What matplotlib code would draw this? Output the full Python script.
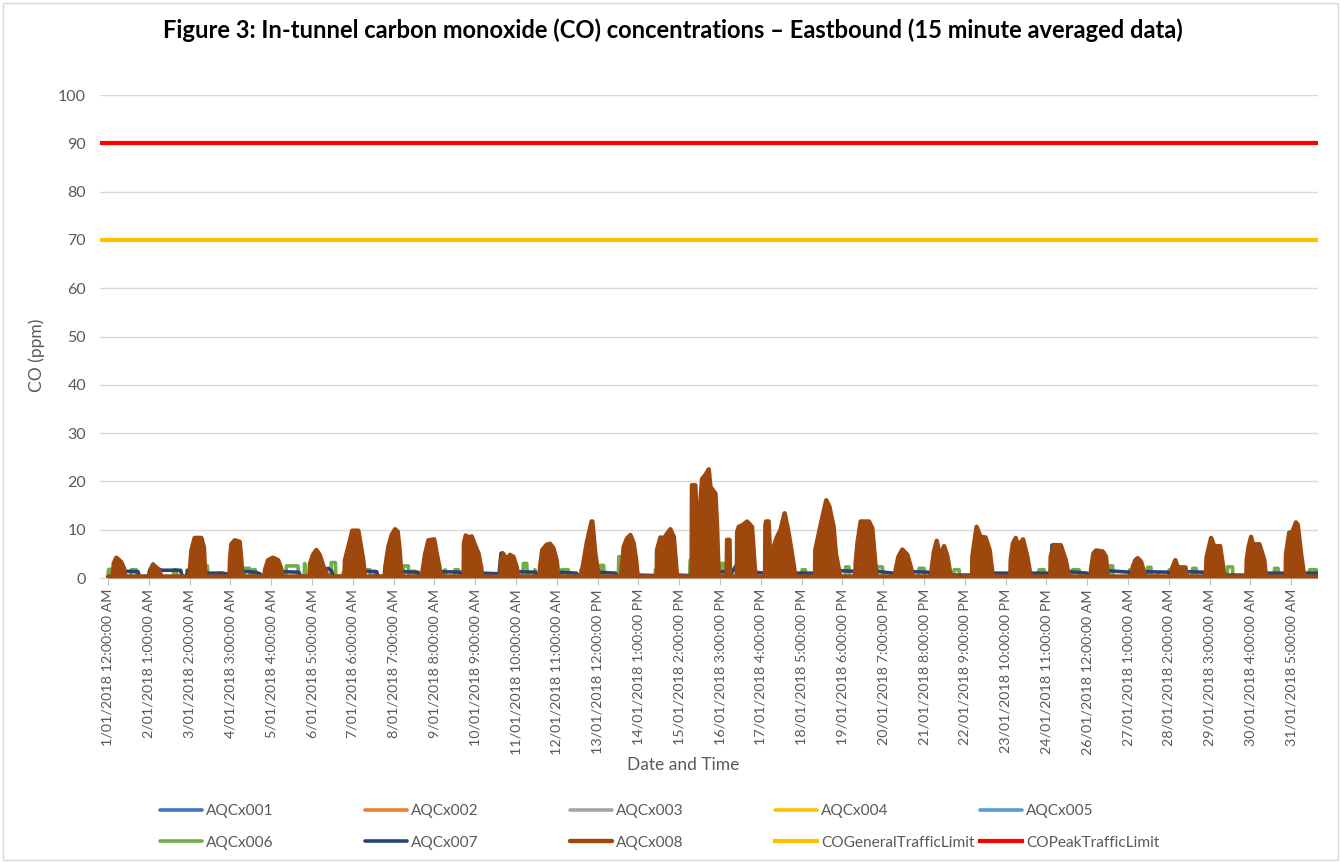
import numpy as np
import matplotlib
matplotlib.use("Agg")
import matplotlib.pyplot as plt
from matplotlib.patches import Rectangle

plt.rcParams["font.family"] = ["Lato", "DejaVu Sans"]

# ── Data (hours since 1/01/2018 00:00, CO in ppm) ─────────────────────────────

TICK_HOURS = list(range(0, 726, 25))
TICK_LABELS = [
    "1/01/2018 12:00:00 AM", "2/01/2018 1:00:00 AM", "3/01/2018 2:00:00 AM",
    "4/01/2018 3:00:00 AM", "5/01/2018 4:00:00 AM", "6/01/2018 5:00:00 AM",
    "7/01/2018 6:00:00 AM", "8/01/2018 7:00:00 AM", "9/01/2018 8:00:00 AM",
    "10/01/2018 9:00:00 AM", "11/01/2018 10:00:00 AM", "12/01/2018 11:00:00 AM",
    "13/01/2018 12:00:00 PM", "14/01/2018 1:00:00 PM", "15/01/2018 2:00:00 PM",
    "16/01/2018 3:00:00 PM", "17/01/2018 4:00:00 PM", "18/01/2018 5:00:00 PM",
    "19/01/2018 6:00:00 PM", "20/01/2018 7:00:00 PM", "21/01/2018 8:00:00 PM",
    "22/01/2018 9:00:00 PM", "23/01/2018 10:00:00 PM", "24/01/2018 11:00:00 PM",
    "26/01/2018 12:00:00 AM", "27/01/2018 1:00:00 AM", "28/01/2018 2:00:00 AM",
    "29/01/2018 3:00:00 AM", "30/01/2018 4:00:00 AM", "31/01/2018 5:00:00 AM",
]

# AQCx008 (dominant brown series)
H_008 = [0, 3.0, 3.5, 5.1, 6.5, 8.1, 9.8, 10.3,
         25.3, 26.5, 27.6, 29.6, 31.5, 32.7,
         49.8, 50.2, 51.1, 53.1, 57.2, 58.8, 59.6,
         74.4, 74.8, 75.6, 77.6, 80.7, 81.7, 82.3,
         95.8, 96.2, 98.1, 101.1, 104.2, 105.8, 107.2,
         123.4, 123.8, 125.6, 127.7, 129.7, 132.0, 134.8,
         144.8, 145.2, 147.3, 149.7, 153.4, 155.0, 156.4, 157.5,
         169.5, 169.9, 171.8, 173.8, 175.9, 177.5, 178.5, 179.9,
         192.4, 192.8, 194.2, 196.3, 199.9, 201.4, 203.4, 204.4,
         217.9, 218.1, 219.2, 220.8, 222.9, 224.9, 227.0, 228.6, 229.4,
         240.6, 240.8, 242.2, 244.3, 246.3, 248.4, 250.4, 251.5,
         264.5, 264.7, 266.1, 268.8, 270.8, 272.9, 274.9, 276.0,
         290.0, 290.2, 293.3, 296.3, 296.8, 298.6, 300.7,
         313.9, 314.5, 316.0, 318.0, 320.1, 322.1, 323.6, 324.6,
         336.2, 336.4, 338.5, 340.5, 342.6, 344.6, 346.7, 348.7,
         357.6, 357.8, 359.9, 361.2, 362.3, 363.0, 364.0, 366.0, 368.1, 369.1,
         371.2, 372.2, 373.2, 374.2,
         379.1, 379.3, 380.8, 381.2, 385.3, 385.5, 386.5, 389.0, 391.6, 394.6, 396.7,
         402.6, 402.8, 403.2, 404.8, 405.5, 407.9, 409.9, 412.0, 414.6, 417.1, 419.1, 421.2,
         433.2, 433.4, 436.4, 440.1, 442.0, 444.6, 446.0, 448.7,
         457.9, 458.1, 459.2, 461.2, 466.3, 468.3, 470.0, 470.8,
         482.4, 482.6, 484.3, 486.7, 489.8, 491.8, 493.2,
         504.5, 504.7, 506.1, 507.8, 509.8, 512.3, 514.3, 516.4,
         529.4, 529.6, 532.2, 534.7, 537.7, 540.2, 542.2,
         552.9, 553.1, 554.5, 556.2, 557.5, 558.2, 560.7, 563.3, 565.4,
         577.4, 577.6, 579.7, 583.8, 586.8, 588.9,
         602.1, 602.3, 603.8, 605.4, 609.5, 611.5, 612.5,
         627.7, 627.9, 629.5, 630.9, 633.0, 634.4, 635.7,
         651.8, 652.0, 654.0, 655.2, 656.5, 660.2, 661.0,
         672.6, 673.2, 675.9, 677.9, 679.9, 681.4, 683.0, 684.0,
         697.5, 697.7, 698.9, 700.4, 702.0, 703.4, 705.5, 708.5, 709.5,
         721.6, 721.8, 723.8, 725.5, 727.9, 729.0, 731.0, 733.0, 741.0]
CO_008 = [0.3, 0.4, 3.0, 4.2, 3.8, 3.3, 2.0, 0.3,
          0.3, 1.8, 2.7, 2.2, 1.5, 0.3,
          0.3, 1.7, 5.7, 8.3, 8.3, 6.3, 0.3,
          0.3, 4.0, 7.0, 7.8, 7.5, 3.7, 0.3,
          0.3, 1.7, 3.7, 4.2, 3.7, 2.3, 0.3,
          0.3, 3.0, 4.8, 5.8, 4.8, 2.4, 0.3,
          0.3, 3.7, 6.5, 9.8, 9.8, 6.5, 3.7, 0.3,
          0.3, 2.3, 6.5, 8.9, 10.1, 9.6, 6.5, 0.3,
          0.3, 1.6, 4.8, 7.8, 8.0, 5.1, 1.7, 0.3,
          0.3, 7.2, 8.8, 8.4, 8.6, 6.8, 5.1, 2.3, 0.3,
          0.3, 3.7, 5.0, 3.8, 4.8, 4.4, 2.3, 0.3,
          0.3, 2.3, 5.8, 6.9, 7.1, 6.2, 3.7, 0.3,
          0.3, 1.0, 7.2, 11.7, 11.7, 5.0, 0.3,
          0.3, 1.0, 6.5, 8.2, 8.9, 7.2, 3.7, 0.3,
          0.3, 5.8, 8.4, 8.2, 9.2, 10.1, 8.5, 0.3,
          0.3, 19.2, 19.2, 5.0, 0.3, 16.0, 20.5, 21.3, 22.5, 18.9,
          17.9, 17.5, 10.6, 0.3,
          0.3, 7.9, 7.9, 0.3, 0.3, 9.5, 10.6, 11.0, 11.7, 10.6, 0.3,
          0.3, 11.0, 11.7, 11.7, 6.0, 6.5, 8.5, 9.9, 13.4, 9.2, 5.0, 0.3,
          0.3, 5.8, 10.6, 16.1, 14.8, 10.6, 5.0, 0.3,
          0.3, 3.0, 7.2, 11.7, 11.7, 10.3, 3.7, 0.3,
          0.3, 1.7, 4.4, 5.9, 4.8, 2.4, 0.3,
          0.3, 2.0, 5.5, 7.7, 4.4, 6.6, 4.5, 0.3,
          0.3, 4.4, 10.6, 8.5, 8.4, 5.8, 0.3,
          0.3, 3.7, 7.2, 8.3, 6.5, 7.0, 8.0, 4.4, 0.3,
          0.3, 4.4, 6.8, 6.8, 3.7, 0.3,
          0.3, 1.7, 5.1, 5.7, 5.5, 4.4, 0.3,
          0.3, 2.3, 3.7, 4.1, 3.4, 1.7, 0.3,
          0.3, 2.0, 3.7, 2.5, 2.2, 2.2, 0.3,
          0.3, 4.4, 8.3, 6.5, 6.6, 6.6, 3.0, 0.3,
          0.3, 3.7, 6.5, 8.5, 6.5, 7.0, 7.0, 3.7, 0.3,
          0.3, 5.0, 9.4, 9.4, 11.5, 11.0, 5.1, 0.3, 0.3]

# AQCx007 (navy)
H_007 = [0, 10.3, 10.5, 18.4, 19.2,
         24.8, 25.4, 27.6, 30.0, 33.0, 44.5, 45.5,
         48.2, 48.6, 50.0, 59.6, 70.0, 73.6, 74.2,
         82.3, 90.0, 93.0, 94.0,
         96.0, 107.2, 117.0, 118.0,
         123.4, 134.8, 137.0, 138.0,
         145.0, 157.5, 164.6, 165.5,
         169.7, 180.0, 190.0, 191.0,
         204.4, 216.0, 217.5,
         229.4, 238.0, 239.5, 240.8, 241.8, 242.5,
         251.5, 262.0, 263.5,
         276.0, 287.0, 288.5,
         300.7, 311.0, 312.0,
         324.6, 335.0, 336.0,
         348.7, 356.0, 357.0, 364.0, 367.0, 370.0, 374.2, 379.0, 381.0,
         385.5, 387.0, 391.0, 394.0, 396.7, 402.0,
         421.2, 432.0, 433.0,
         448.7, 457.0, 458.0,
         470.8, 481.0, 482.4,
         493.2, 503.0, 504.5,
         516.4, 528.0, 529.4,
         542.2, 552.0, 552.9,
         565.4, 576.0, 577.4, 578.4, 579.5, 580.5,
         588.9, 600.0, 602.0,
         612.5, 626.0, 627.7,
         635.7, 650.0, 651.8,
         661.0, 671.0, 672.6, 673.2, 674.0, 675.0,
         684.0, 696.0, 697.5,
         709.5, 720.0, 721.6,
         733.0, 741.0]
CO_007 = [0.3, 0.3, 1.4, 1.3, 0.3,
          0.3, 1.5, 2.9, 2.0, 1.6, 1.6, 0.3,
          0.3, 1.6, 1.6, 1.0, 1.0, 0.8, 0.3,
          1.4, 1.2, 0.9, 0.3,
          0.8, 1.3, 1.2, 0.3,
          0.3, 2.0, 1.5, 0.3,
          0.3, 1.4, 1.3, 0.3,
          0.3, 1.3, 1.2, 0.3,
          1.3, 1.2, 0.3,
          1.0, 0.9, 0.3, 5.1, 5.2, 2.0,
          1.3, 1.2, 0.3,
          1.2, 1.0, 0.3,
          1.2, 1.0, 0.3,
          0.6, 0.5, 0.3,
          0.6, 0.5, 0.3, 3.0, 5.1, 4.0, 1.3, 1.3, 0.3,
          3.0, 5.1, 5.0, 2.0, 1.2, 1.0,
          1.0, 1.0, 0.3,
          1.5, 1.4, 0.3,
          1.4, 1.0, 0.3,
          1.3, 1.2, 0.3,
          0.6, 0.6, 0.3,
          1.0, 1.0, 0.3,
          1.0, 1.0, 0.3, 6.8, 6.9, 2.0,
          1.3, 1.0, 0.3,
          1.5, 1.2, 0.3,
          1.3, 1.2, 0.3,
          1.3, 1.2, 0.3, 4.4, 4.4, 1.0,
          0.6, 0.6, 0.3,
          1.0, 1.0, 0.3,
          1.0, 1.0]

# AQCx006 (green)
H_006 = [0, 0.5, 1.5, 2.0, 14.0, 14.3, 17.4, 17.7, 40.1, 40.4, 41.9, 42.2,
         58.5, 58.8, 60.9, 61.2, 67.5, 67.8, 70.5, 70.8, 83.4, 83.7, 86.8, 87.1,
         88.5, 88.8, 90.3, 90.6, 109.0, 109.3, 116.4, 116.7, 120.2, 120.5, 121.0,
         136.5, 136.8, 139.3, 139.6, 157.2, 157.5, 160.5, 160.8, 163.3, 163.6, 164.2,
         180.7, 181.0, 184.0, 184.3, 186.0, 188.0, 188.3, 206.2, 206.5, 207.0,
         212.3, 212.6, 214.7, 215.0, 254.2, 254.5, 256.6, 256.9, 261.3, 261.6, 262.0,
         277.6, 277.9, 282.0, 282.3, 289.5, 289.8, 290.2, 301.4, 301.7, 303.7, 304.0,
         312.7, 313.0, 316.0, 316.3, 335.1, 335.4, 337.4, 337.7, 356.4, 356.7, 357.8, 358.1,
         374.9, 375.2, 377.3, 377.6, 425.0, 425.3, 427.3, 427.6,
         451.7, 452.0, 454.0, 454.3, 471.1, 471.4, 474.5, 474.8, 496.7, 497.0, 500.0, 500.3,
         518.1, 518.4, 521.5, 521.8, 570.2, 570.5, 573.6, 573.9, 590.7, 591.0, 595.0, 595.3,
         613.3, 613.6, 615.6, 615.9, 625.7, 626.0, 628.0, 628.3, 636.7, 637.0, 639.0, 639.3,
         650.0, 650.3, 650.8, 664.3, 664.6, 666.7, 667.0, 685.7, 686.0, 689.0, 689.3,
         714.5, 714.8, 716.9, 717.2, 735.9, 736.2, 740.3, 741.0]
CO_006 = [1.0, 1.8, 1.8, 0.3, 0.3, 1.7, 1.7, 0.3, 0.3, 1.7, 1.7, 0.3,
          0.3, 2.5, 2.5, 0.3, 0.3, 1.0, 1.0, 0.3, 0.3, 2.0, 2.0, 0.3,
          0.3, 1.7, 1.7, 0.3, 0.3, 2.5, 2.5, 0.3, 0.3, 3.0, 0.3,
          0.3, 3.2, 3.2, 0.3, 0.3, 1.7, 1.7, 0.3, 0.3, 1.4, 0.3,
          0.3, 2.5, 2.5, 0.3, 1.4, 1.4, 0.3, 0.3, 1.7, 0.3,
          0.3, 1.7, 1.7, 0.3, 0.3, 3.0, 3.0, 0.3, 0.3, 1.7, 0.3,
          0.3, 1.7, 1.7, 0.3, 0.3, 1.7, 0.3, 0.3, 2.6, 2.6, 0.3,
          0.3, 4.4, 4.4, 0.3, 0.3, 1.7, 1.7, 0.3, 0.3, 3.7, 3.7, 0.3,
          0.3, 3.0, 3.0, 0.3, 0.3, 1.7, 1.7, 0.3,
          0.3, 2.3, 2.3, 0.3, 0.3, 2.3, 2.3, 0.3, 0.3, 2.0, 2.0, 0.3,
          0.3, 1.7, 1.7, 0.3, 0.3, 1.7, 1.7, 0.3, 0.3, 1.7, 1.7, 0.3,
          0.3, 2.5, 2.5, 0.3, 0.3, 1.7, 1.7, 0.3, 0.3, 2.2, 2.2, 0.3,
          0.3, 1.7, 0.3, 0.3, 2.0, 2.0, 0.3, 0.3, 2.3, 2.3, 0.3,
          0.3, 2.0, 2.0, 0.3, 0.3, 1.7, 1.7, 1.0]

# minor series, mostly hidden near the baseline
H_001 = [0, 741.0]
CO_001 = [0.2, 0.2]
H_002 = [0, 643.0, 643.5, 644.0, 741.0]
CO_002 = [0.2, 0.2, 1.1, 0.2, 0.2]
H_003 = [0, 741.0]
CO_003 = [0.2, 0.2]
H_004 = [0, 143.2, 143.6, 144.0, 741.0]
CO_004 = [0.2, 0.2, 1.0, 0.2, 0.2]
H_005 = [0, 26.8, 27.1, 27.4, 366.5, 366.8, 367.1, 531.0, 531.3, 531.6, 741.0]
CO_005 = [0.1, 0.1, 0.9, 0.1, 0.1, 1.2, 0.1, 0.1, 1.0, 0.1, 0.1]

GENERAL_LIMIT = 70
PEAK_LIMIT = 90

# ── Plot ──────────────────────────────────────────────────────────────────────

W, H = 1341, 863
fig = plt.figure(figsize=(W / 100, H / 100), dpi=100)
fig.patches.append(Rectangle((3 / W, 3 / H), 1 - 6 / W, 1 - 6 / H, transform=fig.transFigure,
                             fill=False, edgecolor="#D9D9D9", linewidth=1))

ax = fig.add_axes([100 / W, (H - 578) / H, (1318 - 100) / W, (578 - 95) / H])

series = [
    ("AQCx001", H_001, CO_001, "#4472C4"),
    ("AQCx002", H_002, CO_002, "#ED7D31"),
    ("AQCx003", H_003, CO_003, "#A5A5A5"),
    ("AQCx004", H_004, CO_004, "#FFC000"),
    ("AQCx005", H_005, CO_005, "#5B9BD5"),
    ("AQCx006", H_006, CO_006, "#70AD47"),
    ("AQCx007", H_007, CO_007, "#264478"),
    ("AQCx008", H_008, CO_008, "#9E480E"),
]
handles = []
for name, hh, vv, col in series:
    lw = 2.6
    if name == "AQCx008":
        ax.fill_between(hh, vv, 0, color=col, linewidth=0, zorder=3)
        lw = 3.2
    ln, = ax.plot(hh, vv, color=col, lw=lw, label=name, zorder=3,
                  solid_joinstyle="round", solid_capstyle="round")
    handles.append(ln)

h_gen = ax.axhline(GENERAL_LIMIT, color="#FFC000", lw=3, zorder=4,
                   label="COGeneralTrafficLimit")
h_peak = ax.axhline(PEAK_LIMIT, color="#FF0000", lw=3, zorder=4,
                    label="COPeakTrafficLimit")
handles += [h_gen, h_peak]

ax.set_ylim(0, 100)
ax.set_yticks(range(0, 101, 10))
ax.set_xlim(-4.9, 741.4)
ax.set_xticks(TICK_HOURS)
ax.set_xticklabels(TICK_LABELS, rotation=90, va="top", ha="center")
ax.grid(True, axis="y", color="#D9D9D9", lw=1)
ax.set_axisbelow(True)
for s in ["top", "right", "left"]:
    ax.spines[s].set_visible(False)
ax.spines["bottom"].set_color("#D9D9D9")
ax.tick_params(axis="y", length=0, pad=10, labelsize=11.5, labelcolor="#595959")
ax.tick_params(axis="x", length=5, width=0.8, color="#BFBFBF", pad=3,
               labelsize=10.3, labelcolor="#595959")

fig.text(37 / W, 1 - 355 / H, "CO (ppm)", rotation=90, ha="center", va="center",
         fontsize=12.5, color="#595959")
fig.text(683 / W, 1 - 765 / H, "Date and Time", ha="center", va="center",
         fontsize=12.5, color="#595959")
fig.text(673 / W, 1 - 30 / H,
         "Figure 3: In-tunnel carbon monoxide (CO) concentrations \u2013 Eastbound (15 minute averaged data)",
         ha="center", va="center", fontsize=17.1, fontweight="bold", color="black")

# legend: five columns of two rows, laid out like the Excel legend
col_x = [160, 365, 570, 775, 980]
for i, x0 in enumerate(col_x):
    pair = [handles[i], handles[i + 5]]
    fig.legend(pair, [p.get_label() for p in pair], loc="upper left",
               bbox_to_anchor=(x0 / W, 1 - 804 / H), frameon=False, fontsize=11.1,
               handlelength=2.7, handletextpad=0.3, labelspacing=1.15,
               borderpad=0, borderaxespad=0, labelcolor="#595959")

fig.savefig("out.png", dpi=100)
